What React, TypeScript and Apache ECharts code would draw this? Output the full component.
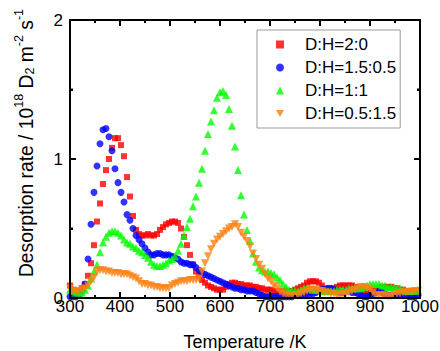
import React, { useEffect, useRef } from "react";
import * as echarts from "echarts";

const temps = [
  300, 306, 312, 318, 324, 330, 336, 342, 348, 354,
  360, 366, 372, 378, 384, 390, 396, 402, 408, 414,
  420, 426, 432, 438, 444, 450, 456, 462, 468, 474,
  480, 486, 492, 498, 504, 510, 516, 522, 528, 534,
  540, 546, 552, 558, 564, 570, 576, 582, 588, 594,
  600, 606, 612, 618, 624, 630, 636, 642, 648, 654,
  660, 666, 672, 678, 684, 690, 696, 702, 708, 714,
  720, 726, 732, 738, 744, 750, 756, 762, 768, 774,
  780, 786, 792, 798, 804, 810, 816, 822, 828, 834,
  840, 846, 852, 858, 864, 870, 876, 882, 888, 894,
  900, 906, 912, 918, 924, 930, 936, 942, 948, 954,
  960, 966, 972, 978, 984, 990, 996,
];

const dh20 = [
  0.09, 0.06, 0.05, 0.05, 0.07, 0.10, 0.16, 0.25, 0.38, 0.55,
  0.68, 0.82, 0.92, 1.00, 1.08, 1.15, 1.15, 1.10, 1.02, 0.87,
  0.73, 0.59, 0.49, 0.46, 0.45, 0.45, 0.46, 0.45, 0.45, 0.46,
  0.49, 0.51, 0.53, 0.54, 0.55, 0.55, 0.54, 0.50, 0.44, 0.38,
  0.31, 0.24, 0.19, 0.16, 0.13, 0.11, 0.09, 0.08, 0.07, 0.06,
  0.06, 0.06, 0.08, 0.10, 0.11, 0.11, 0.10, 0.10, 0.09, 0.09,
  0.09, 0.08, 0.08, 0.07, 0.07, 0.06, 0.06, 0.06, 0.05, 0.05,
  0.05, 0.05, 0.05, 0.05, 0.05, 0.06, 0.07, 0.08, 0.09, 0.11,
  0.12, 0.12, 0.12, 0.11, 0.09, 0.07, 0.06, 0.06, 0.07, 0.08,
  0.09, 0.09, 0.09, 0.09, 0.09, 0.08, 0.07, 0.06, 0.05, 0.05,
  0.05, 0.05, 0.06, 0.07, 0.08, 0.08, 0.08, 0.08, 0.07, 0.07,
  0.06, 0.06, 0.05, 0.05, 0.05, 0.05, 0.05,
];

const dh1505 = [
  0.01, 0.01, 0.01, 0.02, 0.05, 0.10, 0.28, 0.53, 0.76, 0.95,
  1.11, 1.21, 1.22, 1.16, 1.06, 0.93, 0.83, 0.76, 0.69, 0.60,
  0.56, 0.50, 0.45, 0.42, 0.39, 0.36, 0.33, 0.31, 0.31, 0.32,
  0.32, 0.31, 0.31, 0.31, 0.30, 0.29, 0.28, 0.26, 0.25, 0.25,
  0.24, 0.24, 0.22, 0.20, 0.18, 0.17, 0.16, 0.15, 0.14, 0.13,
  0.12, 0.11, 0.10, 0.09, 0.08, 0.07, 0.07, 0.06, 0.06, 0.05,
  0.05, 0.05, 0.04, 0.03, 0.02, 0.01, 0.01, 0.01, 0.01, 0.01,
  0.01, 0.01, 0.01, 0.01, 0.01, 0.02, 0.02, 0.02, 0.02, 0.03,
  0.03, 0.03, 0.04, 0.05, 0.06, 0.06, 0.07, 0.07, 0.06, 0.05,
  0.04, 0.04, 0.05, 0.05, 0.04, 0.04, 0.03, 0.02, 0.01, 0.01,
  0.02, 0.03, 0.04, 0.05, 0.04, 0.03, 0.02, 0.02, 0.02, 0.02,
  0.02, 0.02, 0.02, 0.01, 0.01, 0.01, 0.02,
];

const dh11 = [
  0.06, 0.05, 0.04, 0.04, 0.04, 0.06, 0.09, 0.14, 0.19, 0.24,
  0.33, 0.40, 0.44, 0.47, 0.48, 0.48, 0.47, 0.45, 0.42, 0.40,
  0.39, 0.37, 0.36, 0.34, 0.33, 0.31, 0.29, 0.26, 0.24, 0.23,
  0.23, 0.24, 0.25, 0.27, 0.28, 0.30, 0.34, 0.39, 0.45, 0.51,
  0.57, 0.66, 0.73, 0.83, 0.93, 1.06, 1.18, 1.27, 1.35, 1.44,
  1.48, 1.49, 1.46, 1.36, 1.24, 1.09, 0.92, 0.74, 0.60, 0.49,
  0.41, 0.32, 0.26, 0.22, 0.20, 0.19, 0.19, 0.18, 0.17, 0.15,
  0.13, 0.10, 0.08, 0.06, 0.05, 0.05, 0.05, 0.06, 0.07, 0.07,
  0.07, 0.06, 0.06, 0.06, 0.05, 0.05, 0.05, 0.05, 0.05, 0.06,
  0.06, 0.06, 0.06, 0.07, 0.07, 0.07, 0.07, 0.07, 0.08, 0.09,
  0.10, 0.10, 0.10, 0.10, 0.09, 0.09, 0.08, 0.08, 0.08, 0.07,
  0.07, 0.06, 0.05, 0.05, 0.05, 0.05, 0.06,
];

const dh0515 = [
  0.07, 0.05, 0.045, 0.05, 0.06, 0.07, 0.09, 0.12, 0.15, 0.19,
  0.20, 0.20, 0.19, 0.19, 0.18, 0.18, 0.18, 0.17, 0.17, 0.17,
  0.16, 0.15, 0.14, 0.12, 0.10, 0.10, 0.09, 0.09, 0.08, 0.08,
  0.07, 0.07, 0.07, 0.07, 0.09, 0.10, 0.11, 0.12, 0.12, 0.12,
  0.13, 0.13, 0.13, 0.14, 0.19, 0.25, 0.30, 0.35, 0.39, 0.42,
  0.44, 0.46, 0.48, 0.50, 0.51, 0.53, 0.51, 0.47, 0.44, 0.41,
  0.37, 0.32, 0.28, 0.24, 0.21, 0.17, 0.14, 0.12, 0.09, 0.07,
  0.045, 0.03, 0.02, 0.02, 0.02, 0.02, 0.02, 0.03, 0.04, 0.05,
  0.06, 0.06, 0.06, 0.05, 0.05, 0.04, 0.04, 0.03, 0.03, 0.02,
  0.02, 0.03, 0.03, 0.04, 0.05, 0.06, 0.07, 0.08, 0.08, 0.07,
  0.06, 0.04, 0.02, 0.02, 0.02, 0.02, 0.01, 0.01, 0.02, 0.03,
  0.035, 0.04, 0.04, 0.045, 0.045, 0.05, 0.05,
];

const seriesNames = ["D:H=2:0", "D:H=1.5:0.5", "D:H=1:1", "D:H=0.5:1.5"];
const seriesColors = ["#ff0000", "#0000ff", "#00ff00", "#ff8010"];
const seriesSymbols = ["rect", "circle", "triangle", "triangle"];
const seriesRotate = [0, 0, 0, 180];
const legendIcons = ["rect", "circle", "triangle", "path://M0,0L10,0L5,9Z"];
const seriesSizes = [6, 7, 8, 8];
const seriesValues = [dh20, dh1505, dh11, dh0515];

const xTicks = { min: 300, max: 1000, interval: 100 };
const yTicks = { min: 0, max: 2, interval: 1 };
const xMajor = [300, 400, 500, 600, 700, 800, 900, 1000];
const xMinor = [350, 450, 550, 650, 750, 850, 950];
const yMajor = [0, 1, 2];
const yMinor = [0.5, 1.5];
const xTitle = "Temperature /K";
const yTitle = "{a|Desorption rate / 10}{sup|18}{a| D}{sub|2}{a| m}{sup|-2}{a| s}{sup|-1}";

const FONT = "Liberation Sans, Arial, sans-serif";

function axisParts() {
  return {
    axisLine: { show: true, onZero: false, lineStyle: { color: "#000", width: 2 } },
    axisTick: { show: true, inside: true, length: 6, lineStyle: { color: "#000", width: 2 } },
    minorTick: { show: true, splitNumber: 2, length: 3, lineStyle: { color: "#000", width: 2 } },
    splitLine: { show: false },
  };
}

export default function App() {
  const ref = useRef<HTMLDivElement>(null);
  useEffect(() => {
    document.body.style.margin = "0";
    if (!ref.current) return;
    const chart = echarts.init(ref.current, null, { renderer: "svg" });
    chart.setOption({
      animation: false,
      grid: { left: 70, right: 20, top: 20, bottom: 53, outerBoundsMode: "none" },
      legend: {
        orient: "vertical",
        left: 257,
        top: 30,
        padding: [6, 4, 6, 19],
        borderColor: "#999",
        borderWidth: 1,
        itemWidth: 8,
        itemHeight: 8,
        itemGap: 6,
        textStyle: { color: "#000", fontSize: 17, fontFamily: FONT, lineHeight: 17, padding: [0, 0, 0, 16] },
        data: seriesNames.map((n, i) => ({ name: n, icon: legendIcons[i] })),
      },
      xAxis: [
        {
          type: "value",
          ...xTicks,
          position: "bottom",
          ...axisParts(),
          axisLabel: {
            color: "#000",
            fontSize: 17,
            fontFamily: FONT,
            margin: 0,
            formatter: (v: number) => String(v),
          },
        },
        {
          type: "value",
          ...xTicks,
          position: "top",
          ...axisParts(),
          axisLabel: { show: false },
        },
      ],
      yAxis: [
        {
          type: "value",
          ...yTicks,
          position: "left",
          ...axisParts(),
          axisLabel: { color: "#000", fontSize: 17, fontFamily: FONT, margin: 7 },
        },
        {
          type: "value",
          ...yTicks,
          position: "right",
          ...axisParts(),
          axisLabel: { show: false },
        },
      ],
      series: seriesNames.map((n, i) => ({
        name: n,
        type: "scatter",
        xAxisIndex: 0,
        yAxisIndex: 0,
        clip: false,
        symbol: seriesSymbols[i],
        symbolRotate: seriesRotate[i],
        symbolSize: seriesSizes[i],
        itemStyle: { color: seriesColors[i] },
        data: temps.map((t, k) => [t, seriesValues[i][k]]),
      })),
    });

    const px = (v: number) => chart.convertToPixel({ xAxisIndex: 0 }, v) as number;
    const py = (v: number) => chart.convertToPixel({ yAxisIndex: 0 }, v) as number;
    const x0 = px(xTicks.min);
    const x1 = px(xTicks.max);
    const y0 = py(yTicks.min);
    const y1 = py(yTicks.max);
    const els: any[] = [];
    const rect = (x: number, y: number, w: number, h: number) =>
      els.push({ type: "rect", z: 10, silent: true, shape: { x, y, width: w, height: h }, style: { fill: "#000" } });
    if (isFinite(x0) && isFinite(x1) && isFinite(y0) && isFinite(y1)) {
      rect(x0 - 1, y1 - 1, x1 - x0 + 2, 2);
      rect(x0 - 1, y0 - 1, x1 - x0 + 2, 2);
      rect(x0 - 1, y1 - 1, 2, y0 - y1 + 2);
      rect(x1 - 1, y1 - 1, 2, y0 - y1 + 2);
      const xt = (v: number, len: number) => {
        const p = px(v);
        rect(p - 1, y0 - len, 2, len);
        rect(p - 1, y1, 2, len);
      };
      xMajor.forEach((v) => xt(v, 6));
      xMinor.forEach((v) => xt(v, 3));
      const yt = (v: number, len: number) => {
        const p = py(v);
        rect(x0, p - 1, len, 2);
        rect(x1 - len, p - 1, len, 2);
      };
      yMajor.forEach((v) => yt(v, 6));
      yMinor.forEach((v) => yt(v, 3));
    }
    els.push({
      type: "text",
      x: 245,
      y: 342,
      z: 10,
      style: { text: xTitle, fill: "#000", fontSize: 18, fontFamily: FONT, align: "center", verticalAlign: "middle" },
    });
    els.push({
      type: "text",
      x: 24,
      y: 143,
      z: 10,
      rotation: Math.PI / 2,
      style: {
        text: yTitle,
        fill: "#000",
        align: "center",
        verticalAlign: "middle",
        rich: {
          a: { fontSize: 19.3, fill: "#000", fontFamily: FONT, verticalAlign: "bottom", lineHeight: 24 },
          sup: { fontSize: 12.5, fill: "#000", fontFamily: FONT, verticalAlign: "top", lineHeight: 24 },
          sub: { fontSize: 12.5, fill: "#000", fontFamily: FONT, verticalAlign: "bottom", lineHeight: 17 },
        },
      },
    });
    chart.setOption({ graphic: { elements: els } });
    return () => chart.dispose();
  }, []);
  return <div ref={ref} style={{ width: 440, height: 351 }} />;
}
